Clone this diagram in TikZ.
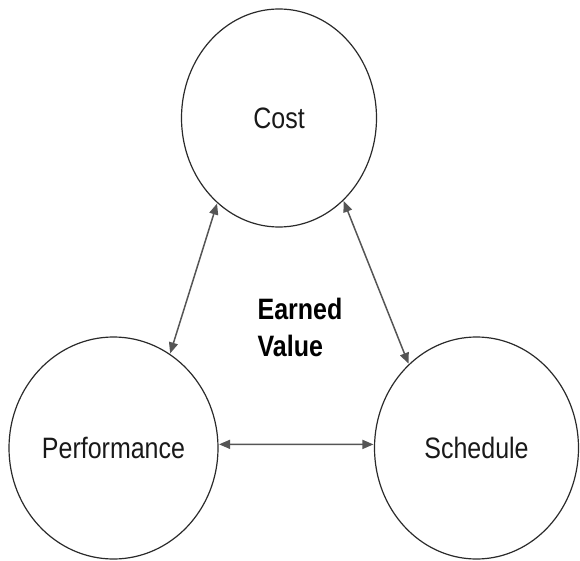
\documentclass[tikz,border=0pt]{standalone}
\usepackage{fontspec}
\setmainfont{Liberation Sans}
\usetikzlibrary{shapes.geometric,arrows.meta}
\definecolor{ringcol}{HTML}{2A2A2A}
\definecolor{arrcol}{HTML}{555555}
\newcommand{\vtxt}[1]{\scalebox{1}[1.18]{#1}}
\tikzset{
  ring/.style={ellipse, draw=ringcol, line width=1.2pt, inner sep=0pt,
    font=\fontsize{25}{30}\selectfont, text=black!90},
  link/.style={draw=arrcol, line width=1.5pt,
    {Triangle[length=11pt,width=9pt]}-{Triangle[length=11pt,width=9pt]}, shorten <=0.5pt, shorten >=0.5pt},
  label/.style={font=\fontsize{25}{30}\bfseries\selectfont, text=black, inner sep=0pt}
}
\begin{document}
\begin{tikzpicture}[x=1pt,y=-1pt]
\useasboundingbox (0,0) rectangle (580,561);
\node[ring, minimum width=195pt, minimum height=218pt] (cost) at (279,118) {\vtxt{Cost}};
\node[ring, minimum width=209pt, minimum height=222pt] (perf) at (113.5,448) {\vtxt{Performance}};
\node[ring, minimum width=204pt, minimum height=222pt] (sched) at (476.5,448) {\vtxt{Schedule}};
\node[label] (ev) at (300,331) {\vtxt{\begin{tabular}{@{}l@{}}Earned\\[1pt]Value\end{tabular}}};
\draw[link] (cost.234.5) -- (perf.59.3);
\draw[link] (cost.-52.7) -- (sched.129.5);
\draw[link] (perf.2) -- (sched.178);
\end{tikzpicture}
\end{document}
